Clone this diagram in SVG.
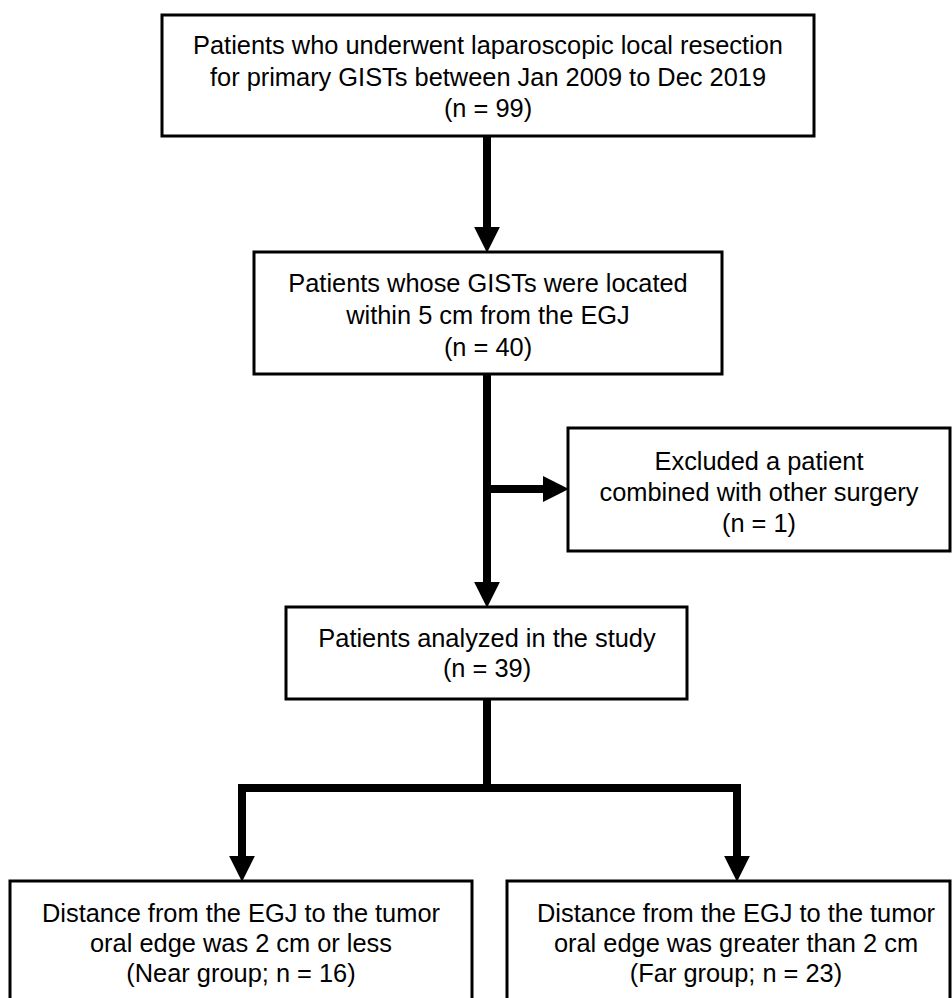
<svg xmlns="http://www.w3.org/2000/svg" width="952" height="998" viewBox="0 0 952 998">
  <style>
    .box { fill: #ffffff; stroke: #000000; stroke-width: 3; }
    .lbl { font-family: "Liberation Sans", Arial, sans-serif; font-size: 25.4px; fill: #000000; text-anchor: middle; }
    .conn { fill: none; stroke: #000000; stroke-width: 8; stroke-linejoin: miter; stroke-linecap: butt; }
  </style>
  <defs>
    <marker id="arrow" markerUnits="userSpaceOnUse" markerWidth="26" markerHeight="26" refX="5" refY="12.5" orient="auto" viewBox="0 0 25 25">
      <path d="M0,0 L25,12.5 L0,25 Z" fill="#000000"/>
    </marker>
  </defs>
  <rect width="952" height="998" fill="#ffffff"/>

  <g id="connectors">
    <path class="conn" d="M487,136 V232" marker-end="url(#arrow)"/>
    <path class="conn" d="M487,374 V587" marker-end="url(#arrow)"/>
    <path class="conn" d="M483,489 H548" marker-end="url(#arrow)"/>
    <path class="conn" d="M487,699 V788"/>
    <path class="conn" d="M491,788 H242 V861" marker-end="url(#arrow)"/>
    <path class="conn" d="M483,788 H737 V861" marker-end="url(#arrow)"/>
  </g>

  <g id="node-all">
    <rect class="box" x="162" y="15" width="652" height="121"/>
    <text class="lbl" x="488" y="54">Patients who underwent laparoscopic local resection</text>
    <text class="lbl" x="488" y="86">for primary GISTs between Jan 2009 to Dec 2019</text>
    <text class="lbl" x="488" y="117">(n = 99)</text>
  </g>

  <g id="node-egj5">
    <rect class="box" x="254" y="252" width="468" height="122"/>
    <text class="lbl" x="488" y="292">Patients whose GISTs were located</text>
    <text class="lbl" x="488" y="324">within 5 cm from the EGJ</text>
    <text class="lbl" x="488" y="356">(n = 40)</text>
  </g>

  <g id="node-excluded">
    <rect class="box" x="568" y="428" width="382" height="123"/>
    <text class="lbl" x="759" y="470">Excluded a patient</text>
    <text class="lbl" x="759" y="501">combined with other surgery</text>
    <text class="lbl" x="759" y="532">(n = 1)</text>
  </g>

  <g id="node-analyzed">
    <rect class="box" x="286" y="607" width="401" height="92"/>
    <text class="lbl" x="487" y="647">Patients analyzed in the study</text>
    <text class="lbl" x="487" y="677">(n = 39)</text>
  </g>

  <g id="node-near">
    <rect class="box" x="10" y="881" width="462" height="130"/>
    <text class="lbl" x="241" y="922">Distance from the EGJ to the tumor</text>
    <text class="lbl" x="241" y="952">oral edge was 2 cm or less</text>
    <text class="lbl" x="241" y="982">(Near group; n = 16)</text>
  </g>

  <g id="node-far">
    <rect class="box" x="507" y="881" width="443" height="130"/>
    <text class="lbl" x="736" y="922">Distance from the EGJ to the tumor</text>
    <text class="lbl" x="736" y="952">oral edge was greater than 2 cm</text>
    <text class="lbl" x="736" y="982">(Far group; n = 23)</text>
  </g>
</svg>
